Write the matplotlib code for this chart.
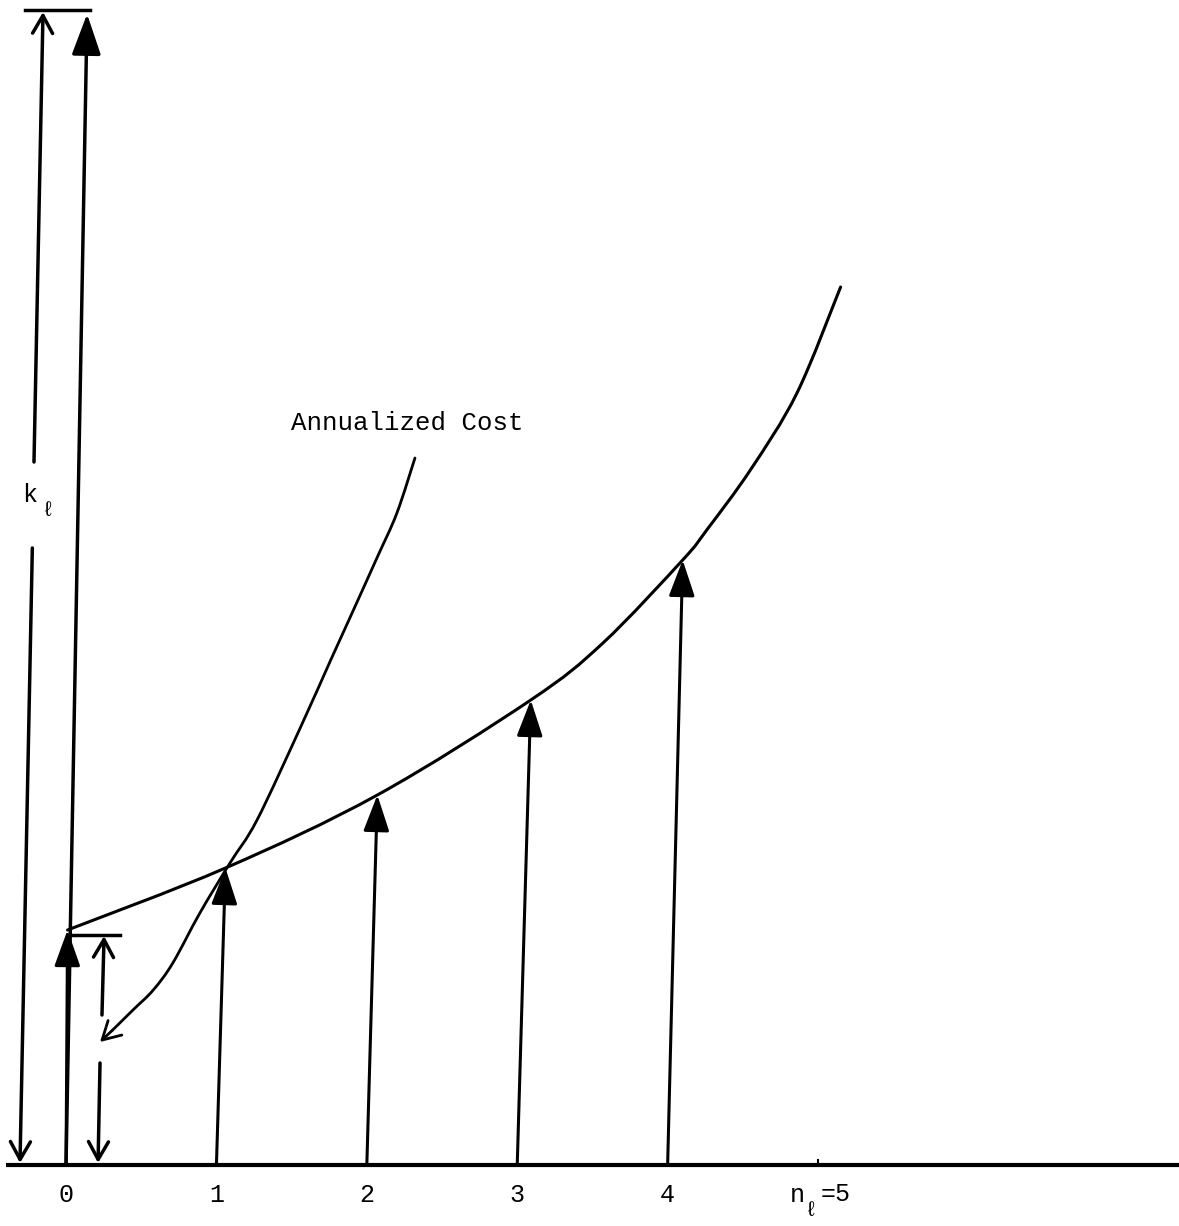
import matplotlib.pyplot as plt
from matplotlib.path import Path
from matplotlib.patches import PathPatch

# arrow positions on the n axis and the cost they reach
n_years = [0, 1, 2, 3, 4]
tip_n = [0.01, 1.06, 2.07, 3.09, 4.10]
tip_cost = [2.35, 2.97, 3.70, 4.65, 6.05]

# convex cost curve through the arrow tips
cost_n = [0.01, 1.06, 2.07, 3.09, 3.57, 4.10, 4.26, 4.55, 4.86, 5.15]
cost_y = [2.35, 2.97, 3.70, 4.65, 5.22, 6.05, 6.35, 6.95, 7.72, 8.78]

# annualized cost curve (drawn from top to the arrow end)
annual_n = [2.32, 2.20, 2.07, 1.89, 1.76, 1.56, 1.27, 1.09, 0.89, 0.71, 0.58, 0.445, 0.31, 0.226]
annual_y = [7.07, 6.52, 6.08, 5.48, 5.05, 4.38, 3.45, 3.02, 2.52, 2.02, 1.75, 1.55, 1.35, 1.23]

k_total = 11.53
tick_labels = ["0", "1", "2", "3", "4"]

mono = ["Liberation Mono", "DejaVu Sans Mono"]

fig = plt.figure(figsize=(11.79, 12.26), dpi=100)
ax = fig.add_axes([0, 0, 1, 1])
ax.set_xlim(-0.439, 7.40)
ax.set_ylim(-0.61, 11.65)
ax.axis("off")

filled = "-|>,head_length=1.4,head_width=0.5"
opened = "->,head_length=0.8,head_width=0.45"


def arrow(x0, y0, x1, y1, style, lw=2.2, ms=16):
    ax.annotate("", xy=(x1, y1), xytext=(x0, y0),
                arrowprops=dict(arrowstyle=style, lw=lw, color="black",
                                shrinkA=0, shrinkB=0, mutation_scale=ms))


def smooth_curve(xs, ys, lw):
    # catmull-rom style cubic bezier through the read points
    pts = list(zip(xs, ys))
    verts = [pts[0]]
    codes = [Path.MOVETO]
    for i in range(len(pts) - 1):
        p0 = pts[i - 1] if i > 0 else pts[i]
        p1, p2 = pts[i], pts[i + 1]
        p3 = pts[i + 2] if i + 2 < len(pts) else pts[i + 1]
        c1 = (p1[0] + (p2[0] - p0[0]) / 6, p1[1] + (p2[1] - p0[1]) / 6)
        c2 = (p2[0] - (p3[0] - p1[0]) / 6, p2[1] - (p3[1] - p1[1]) / 6)
        verts += [c1, c2, p2]
        codes += [Path.CURVE4] * 3
    ax.add_patch(PathPatch(Path(verts, codes), fill=False, lw=lw,
                           edgecolor="black", capstyle="round"))


# horizontal axis
ax.plot([-0.40, 7.40], [0, 0], color="black", lw=3, solid_capstyle="butt")
ax.plot([5, 5], [0, 0.05], color="black", lw=1.5)

# arrows up to the cost curve
for n, tn, tc in zip(n_years, tip_n, tip_cost):
    arrow(n, 0, tn, tc, filled)

# tall arrow for k and top bar
arrow(0, 0, 0.14, k_total - 0.02, filled, lw=2.5, ms=18)
ax.plot([-0.27, 0.16], [k_total + 0.02, k_total + 0.02], color="black", lw=2.5)

# k dimension line, broken around label
arrow(-0.213, 7.03, -0.153, k_total, opened, lw=2.5)
arrow(-0.224, 6.17, -0.306, 0.02, opened, lw=2.5)
ax.text(-0.239, 6.70, "k", family=mono, fontsize=18, ha="center", va="center")
ax.text(-0.126, 6.55, "ℓ", family=mono, fontsize=15, ha="center", va="center")

# small dimension for cost at n=0
ax.plot([0.013, 0.36], [2.30, 2.30], color="black", lw=2.5)
arrow(0.239, 1.50, 0.253, 2.29, opened, lw=2.5)
arrow(0.226, 1.02, 0.213, 0.02, opened, lw=2.5)

# curves
smooth_curve(cost_n, cost_y, 2.2)
smooth_curve(annual_n[:-1], annual_y[:-1], 2.0)
arrow(annual_n[-2], annual_y[-2], annual_n[-1], annual_y[-1], opened, lw=2.0)
ax.text(2.27, 7.42, "Annualized Cost", family=mono, fontsize=18.5,
        ha="center", va="center")

# tick labels
for n, lab in zip(n_years, tick_labels):
    ax.text(n, -0.30, lab, family=mono, fontsize=18, ha="center", va="center")
ax.text(4.86, -0.30, "n", family=mono, fontsize=18, ha="center", va="center")
ax.text(4.95, -0.45, "ℓ", family=mono, fontsize=15, ha="center", va="center")
ax.text(5.12, -0.29, "=5", family=mono, fontsize=18, ha="center", va="center")

fig.savefig("out.png", dpi=100)
